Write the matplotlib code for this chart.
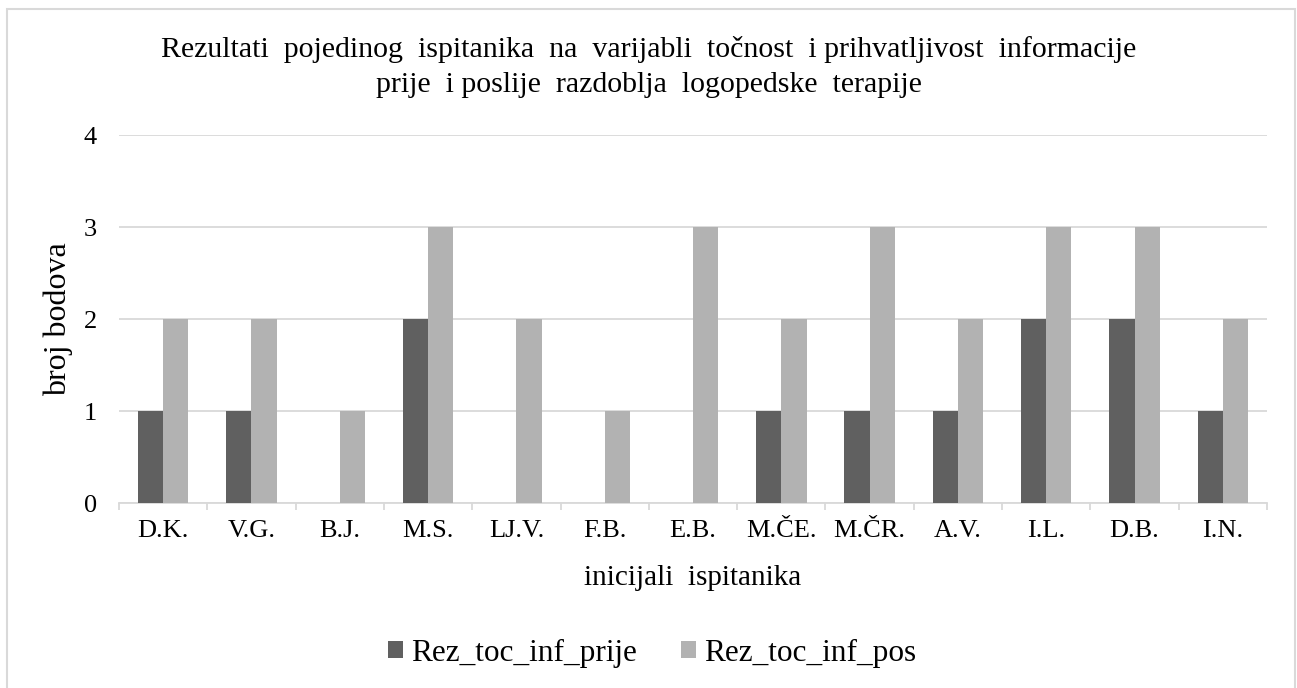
import matplotlib
matplotlib.use("Agg")
import matplotlib.pyplot as plt
import numpy as np
from matplotlib.patches import Rectangle

# initials and scores
initials = ["D.K.", "V.G.", "B.J.", "M.S.", "LJ.V.", "F.B.", "E.B.",
            "M.ČE.", "M.ČR.", "A.V.", "I.L.", "D.B.", "I.N."]
prije = [1, 1, 0, 2, 0, 0, 0, 1, 1, 1, 2, 2, 1]
pos = [2, 2, 1, 3, 2, 1, 3, 2, 3, 2, 3, 3, 2]
series_names = ["Rez_toc_inf_prije", "Rez_toc_inf_pos"]

DARK, LIGHT, GRID = "#606060", "#b2b2b2", "#d9d9d9"
FS = 19

plt.rcParams["font.family"] = ["Liberation Serif", "DejaVu Serif"]

fig = plt.figure(figsize=(12.97, 6.88), dpi=100)
ax = fig.add_axes([119 / 1297, 1 - 503 / 688, 1148 / 1297, 368 / 688])

x = np.arange(len(initials))
w = 1 / 3.5
ax.bar(x - w / 2, prije, w, color=DARK, label=series_names[0], zorder=3)
ax.bar(x + w / 2, pos, w, color=LIGHT, label=series_names[1], zorder=3)

ax.set_xlim(-0.5, len(initials) - 0.5)
ax.set_ylim(0, 4)
ax.set_yticks(range(5))
ax.yaxis.grid(True, color=GRID, lw=1.3, zorder=0)
ax.set_axisbelow(True)

for s in ["top", "right", "left"]:
    ax.spines[s].set_visible(False)
ax.spines["bottom"].set_color(GRID)
ax.spines["bottom"].set_linewidth(1.3)

ax.set_xticks(x)
ax.set_xticklabels(initials, fontsize=FS)
ax.set_xticks(np.arange(-0.5, len(initials)), minor=True)
ax.tick_params(axis="x", which="major", length=0, pad=12)
ax.tick_params(axis="x", which="minor", length=5, width=1.3, color=GRID)
ax.tick_params(axis="y", length=0, pad=16, labelsize=FS)

ax.set_ylabel("broj bodova", fontsize=23, va="center")
ax.yaxis.set_label_coords(-0.053, 0.5)
ax.set_xlabel("inicijali  ispitanika", fontsize=21, va="center")
ax.xaxis.set_label_coords(0.5, -0.204)

fig.text(0.5, 1 - 67 / 688,
         "Rezultati  pojedinog  ispitanika  na  varijabli  točnost  i prihvatljivost  informacije\n"
         "prije  i poslije  razdoblja  logopedske  terapije",
         ha="center", va="center", fontsize=21.5, linespacing=1.45)

fig.legend(loc="center", bbox_to_anchor=(0.503, 1 - 653 / 688), ncol=2,
           frameon=False, fontsize=22.5, handlelength=0.48, handleheight=0.48,
           handletextpad=0.26, columnspacing=1.4)

fig.patches.append(Rectangle((7 / 1297, -0.02), 1288 / 1297, 1.02 - 9 / 688,
                             transform=fig.transFigure, fill=False,
                             edgecolor=GRID, lw=1.5))

fig.savefig("out.png", dpi=100)
